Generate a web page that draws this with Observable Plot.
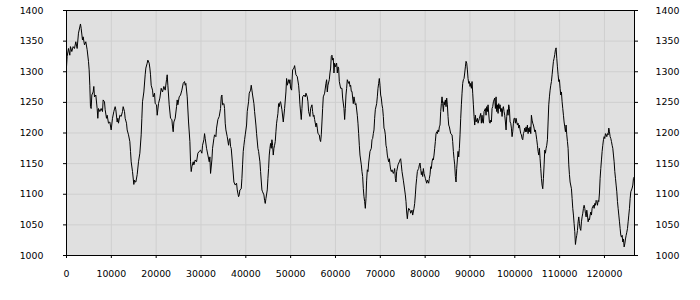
<!DOCTYPE html>
<html>
<head>
<meta charset="utf-8">
<script src="https://cdn.jsdelivr.net/npm/d3@7"></script>
<script src="https://cdn.jsdelivr.net/npm/@observablehq/plot@0.6"></script>
<style>
  html, body { margin: 0; padding: 0; background: #ffffff; }
  #chart svg { display: block; }
</style>
</head>
<body>
<div id="chart"></div>
<script>
// Series positions (x) and values (y)
const xValues = [
  0,141,439,736,885,1183,1480,1778,2075,2373,2671,3117,3266,3563,3712,4010,4307,4605,4903,5051,5200,5349,5498,5647,5944,6093,6242,6539,6837,6986,7135,7432,7730,8027,8176,8474,8623,8920,9069,9367,9664,9962,10259,10557,10855,11003,11301,11450,11599,11896,12194,12491,12640,12938,13087,13384,13533,13831,14128,14277,14426,14723,15021,15170,15319,
  15468,15766,16063,16361,16658,16807,16956,17254,17551,17700,17998,18146,18444,18593,18742,18890,19188,19337,19634,19783,20081,20230,20527,20825,21122,21420,21718,22015,22313,22462,22610,22908,23206,23503,23652,23801,23950,24247,24545,24694,24842,25140,25438,25735,26033,26330,26479,26628,26926,27223,27521,27670,27818,27967,28265,28414,28711,29009,29306,29604,29902,30199,30348,30646,30794,30943,31241,
  31538,31836,31984,32133,32431,32580,32877,33026,33324,33472,33770,34068,34365,34514,34663,34812,35109,35258,35407,35556,35853,36151,36300,36448,36597,36746,37044,37341,37639,37936,38085,38383,38532,38680,38978,39127,39276,39424,39573,39722,39871,40168,40317,40615,40764,41061,41210,41359,41508,41805,41954,42252,42400,42698,42847,43144,43293,43591,43740,44037,44186,44335,44484,44781,44930,45079,45228,45376,45525,45674,45823,45972,46120,46269,46418,46567,46716,46864,47013,47162,47311,47460,
  47609,47758,48055,48353,48651,48948,49097,49246,49543,49692,49841,49990,50213,50436,50734,50883,51180,51478,51775,51924,52073,52371,52519,52668,52966,53263,53412,53710,53859,54007,54305,54454,54751,54900,55049,55198,55347,55644,55793,55942,56091,56388,56537,56686,56835,56983,57132,57281,57579,57876,58025,58174,58323,58620,58769,58918,59067,59215,59364,59513,59662,59811,59959,60257,60406,60555,60703,60852,61150,61447,61596,61894,62043,62191,62340,62489,62638,62935,63084,63233,63382,63531,
  63679,63977,64125,64423,64572,64869,65018,65167,65316,65465,65762,65911,66060,66209,66357,66506,66655,66804,66953,67101,67250,67399,67697,67994,68143,68292,68441,68589,68738,68887,69185,69333,69482,69631,69780,69929,70077,70226,70375,70524,70673,70821,70970,71119,71268,71417,71565,71714,71863,72012,72161,72309,72458,72607,72905,73053,73202,73351,73500,73649,73946,74244,74393,74541,74690,74839,75137,75434,75583,75732,75881,76029,76178,76327,76625,76773,77071,77220,77517,77666,77815,77964,78113,78261,78410,78559,78708,78857,79005,79154,79303,79452,79601,
  79749,80047,80344,80493,80791,80939,81088,81237,81386,81535,81683,81832,81981,82130,82279,82427,82576,82725,82874,83023,83171,83320,83469,83618,83767,83915,84064,84213,84362,84511,84659,84808,84957,85106,85255,85403,85701,85999,86147,86296,86445,86594,86743,86891,87040,87189,87338,87487,87635,87784,87933,88082,88231,88379,88528,88677,88826,88975,89123,89272,89421,89570,89719,89867,90016,90165,90314,90463,90611,90760,90909,91058,91207,91355,91653,91802,92099,92397,92546,92695,92843,92992,93141,93439,93587,93736,93885,94034,94331,94480,94629,94778,94927,95075,95224,95522,95671,
  95820,95969,96118,96266,96415,96564,96713,96862,97010,97159,97308,97457,97606,97754,97903,98052,98201,98350,98498,98647,98796,98945,99094,99242,99391,99540,99689,99838,99986,100135,100284,100433,100582,100730,100879,101028,101177,101326,101474,101623,101772,101921,102070,102218,102367,102516,102665,102814,102962,103111,103260,103409,103558,103706,103855,104004,104153,104302,104450,104599,104748,104897,105046,105194,105343,105492,105641,105790,105938,106087,106236,106385,106534,106682,106831,106980,107129,107278,107426,107575,107724,107873,108022,108170,108319,108468,108617,108766,108914,109063,109212,109361,109510,109658,109807,109956,110105,110254,110402,110551,110700,110849,110998,111146,111295,111444,111593,111742,
  111890,112039,112188,112336,112634,112783,112932,113080,113229,113378,113527,113676,113824,113973,114122,114271,114420,114568,114717,114866,115015,115164,115312,115461,115610,115759,115908,116056,116205,116354,116503,116652,116800,116949,117098,117247,117396,117544,117693,117842,117991,118140,118288,118437,118586,118735,118884,119032,119181,119330,119479,119628,119776,119925,120074,120223,120372,120520,120669,120818,120967,121116,121264,121413,121562,121711,121860,122008,122157,122306,122455,122604,122752,122901,123050,123199,123348,123496,123645,123794,123943,124092,124240,124389,124538,124687,124836,124984,125133,125282,125431,125580,125728,125877,126026,126175,126324,126472,126621
];
const yValues = [
  1308,1325,1338,1327,1341,1333,1341,1338,1349,1338,1363,1378,1371,1352,1357,1344,1349,1336,1317,1303,1278,1243,1240,1262,1267,1276,1259,1262,1240,1224,1240,1235,1240,1235,1254,1251,1238,1224,1229,1216,1218,1205,1224,1235,1243,1238,1218,1224,1216,1229,1227,1235,1243,1235,1224,1216,1205,1197,1186,1170,1153,1137,1116,1123,1120,
  1120,1132,1153,1167,1197,1224,1251,1267,1295,1306,1314,1319,1314,1306,1295,1278,1270,1259,1265,1248,1246,1229,1248,1257,1273,1267,1276,1270,1287,1295,1278,1246,1224,1222,1210,1202,1218,1224,1243,1254,1246,1259,1262,1270,1281,1284,1278,1281,1259,1218,1186,1153,1137,1145,1153,1148,1156,1153,1167,1170,1172,1167,1180,1189,1199,1191,1175,
  1164,1153,1161,1134,1156,1175,1191,1197,1194,1208,1222,1227,1240,1259,1262,1246,1248,1240,1216,1205,1194,1180,1189,1191,1178,1175,1148,1120,1115,1118,1107,1096,1099,1107,1109,1126,1148,1170,1180,1189,1197,1213,1235,1251,1265,1270,1278,1270,1262,1248,1235,1213,1199,1175,1170,1153,1137,1107,1104,1099,1090,1085,1093,1107,1126,1142,1164,1175,1183,1175,1189,1180,1164,1175,1180,1186,1202,1216,1224,1232,1248,1243,
  1250,1251,1238,1218,1240,1267,1289,1278,1287,1281,1287,1273,1270,1303,1306,1310,1295,1292,1278,1265,1246,1222,1240,1259,1262,1259,1265,1259,1251,1235,1227,1240,1246,1235,1227,1229,1222,1210,1216,1208,1199,1197,1189,1186,1197,1218,1240,1259,1265,1281,1287,1267,1278,1287,1298,1306,1325,1327,1319,1322,1298,1314,1308,1314,1298,1308,1306,1284,1273,1273,1257,1240,1222,1240,1262,1273,1287,1281,1284,1276,1278,1268,
  1268,1248,1259,1246,1248,1229,1216,1199,1180,1164,1148,1137,1129,1109,1096,1088,1077,1093,1123,1140,1137,1151,1170,1175,1189,1191,1199,1205,1224,1238,1248,1259,1273,1281,1289,1278,1262,1257,1246,1240,1227,1208,1205,1197,1180,1175,1164,1158,1153,1158,1148,1140,1137,1140,1134,1137,1142,1126,1120,1137,1148,1153,1156,1158,1148,1137,1123,1107,1099,1088,1071,1060,1071,1077,1074,1069,1074,1066,1077,1085,1099,1115,1126,1137,1140,1142,1148,1151,1142,1132,1137,1129,1142,
  1134,1126,1118,1123,1118,1126,1132,1145,1142,1153,1158,1156,1164,1175,1186,1199,1202,1199,1205,1202,1210,1213,1235,1248,1259,1248,1235,1251,1246,1254,1243,1257,1246,1227,1213,1210,1199,1197,1186,1170,1158,1148,1129,1120,1142,1156,1170,1161,1175,1197,1224,1246,1265,1281,1287,1289,1298,1308,1317,1314,1303,1289,1281,1284,1276,1281,1273,1284,1265,1246,1227,1213,1229,1218,1224,1216,1224,1232,1216,1229,1218,1216,1235,1240,1229,1243,1235,1246,1218,1216,1221,1218,1240,1243,1251,1257,1240,
  1259,1235,1246,1232,1248,1240,1246,1235,1240,1227,1240,1243,1235,1229,1218,1205,1227,1238,1229,1246,1240,1218,1216,1208,1194,1202,1216,1224,1224,1216,1224,1218,1213,1216,1208,1213,1205,1199,1197,1191,1189,1199,1202,1208,1202,1210,1202,1213,1199,1208,1202,1210,1199,1229,1221,1216,1213,1208,1202,1205,1197,1189,1180,1170,1164,1175,1158,1142,1126,1115,1109,1126,1148,1172,1167,1175,1180,1189,1218,1246,1259,1270,1278,1284,1295,1306,1317,1322,1328,1336,1339,1322,1308,1295,1284,1287,1273,1262,1267,1251,1240,1229,1218,1210,1202,1213,1197,1186,
  1175,1148,1132,1120,1109,1093,1077,1066,1052,1039,1018,1027,1033,1041,1055,1063,1052,1044,1041,1055,1063,1069,1077,1082,1077,1069,1063,1074,1066,1055,1060,1058,1066,1071,1066,1077,1080,1082,1077,1085,1082,1090,1088,1082,1090,1088,1102,1126,1142,1156,1170,1180,1189,1194,1191,1199,1197,1194,1199,1197,1208,1202,1194,1191,1186,1180,1175,1164,1153,1137,1126,1115,1104,1088,1077,1066,1055,1044,1033,1030,1033,1022,1027,1014,1019,1027,1033,1038,1044,1055,1066,1077,1093,1104,1107,1110,1115,1126,1128
];
const xTicks = [0, 10000, 20000, 30000, 40000, 50000, 60000, 70000, 80000, 90000, 100000, 110000, 120000];
const yTicks = [1000, 1050, 1100, 1150, 1200, 1250, 1300, 1350, 1400];
const xDomain = [0, 126700];
const yDomain = [1000, 1400];

const data = xValues.map((x, i) => ({x, y: yValues[i]}));
const fmt = d => String(d);

const chart = Plot.plot({
  width: 700,
  height: 300,
  marginLeft: 66,
  marginRight: 66,
  marginTop: 10,
  marginBottom: 45,
  style: {
    fontFamily: "'DejaVu Sans', sans-serif",
    fontSize: "9.4px",
    color: "#000",
    background: "#ffffff",
    overflow: "visible"
  },
  x: {domain: xDomain, ticks: xTicks, label: null},
  y: {domain: yDomain, ticks: yTicks, label: null},
  marks: [
    Plot.frame({fill: "#e0e0e0", stroke: "none"}),
    Plot.gridX(xTicks, {stroke: "#cfcfcf", strokeOpacity: 1}),
    Plot.gridY(yTicks, {stroke: "#cfcfcf", strokeOpacity: 1}),
    Plot.line(data, {x: "x", y: "y", stroke: "#000", strokeWidth: 1}),
    Plot.frame({stroke: "#000", strokeWidth: 1}),
    Plot.axisY(yTicks, {anchor: "left", tickSize: 3, tickPadding: 20, tickFormat: fmt, label: null}),
    Plot.axisY(yTicks, {anchor: "right", tickSize: 3, tickPadding: 18, tickFormat: fmt, label: null}),
    Plot.axisX(xTicks, {anchor: "bottom", tickSize: 3, tickPadding: 12, tickFormat: fmt, label: null})
  ]
});
document.getElementById("chart").appendChild(chart);
</script>
</body>
</html>
